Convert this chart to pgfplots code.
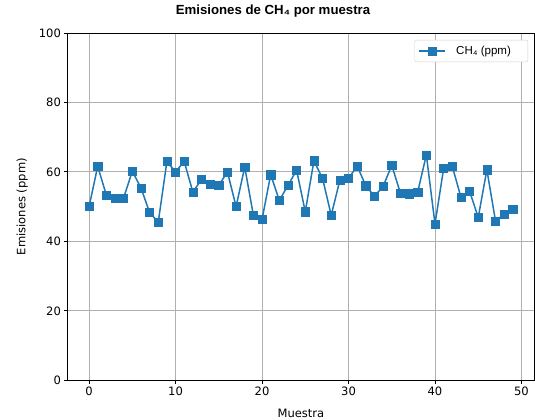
\documentclass[border=0pt]{standalone}
\usepackage{fontspec}
\setmainfont{DejaVu Sans}
\newfontfamily\arialfont{Liberation Sans}
\usepackage{pgfplots}
\pgfplotsset{compat=1.18}
\definecolor{mplblue}{HTML}{1F77B4}
\definecolor{gridgray}{HTML}{B0B0B0}

\begin{document}
\begin{tikzpicture}[x=1bp,y=1bp]
\useasboundingbox (-68,-39) rectangle (468,381);
\begin{axis}[
    at={(0,0)}, anchor=south west,
    scale only axis, width=467bp, height=348bp,
    xmin=-2.45, xmax=51.45, ymin=0, ymax=100,
    xtick={0,10,...,50}, ytick={0,20,...,100},
    tick pos=left, tick align=outside,
    major tick length=3.5bp,
    tick style={black, line width=0.8bp},
    axis line style={line width=0.8bp},
    grid=major, grid style={gridgray, line width=0.8bp},
    tick label style={font=\fontsize{11.6}{13}\selectfont},
    /pgf/number format/assume math mode=true,
    xlabel={Muestra}, ylabel={Emisiones (ppm)},
    every axis x label/.style={at={(axis description cs:0.5,-0.095)}, anchor=center,
        font=\fontsize{11.6}{13}\selectfont},
    every axis y label/.style={at={(axis description cs:-0.098,0.5)}, anchor=center, rotate=90,
        font=\fontsize{11.6}{13}\selectfont},
    title={\arialfont\bfseries Emisiones de CH₄ por muestra},
    title style={at={(axis description cs:0.44,1.046)}, anchor=center, font=\fontsize{13.3}{15}\selectfont},
    legend style={at={(axis description cs:0.9872,0.9799)}, anchor=north east,
        font=\arialfont\fontsize{11.6}{13}\selectfont,
        draw=gridgray!60, rounded corners=2bp, fill=white,
        inner xsep=3bp, inner ysep=4bp},
    legend cell align=left,
    legend image code/.code={\draw[mark repeat=2,mark phase=2] plot coordinates {(0bp,0bp) (13.5bp,0bp) (27bp,0bp)};},
]
\addplot[color=mplblue, line width=1.5bp, mark=square*, mark size=4.1bp,
    mark options={solid, fill=mplblue, draw=mplblue, line width=0.5bp}]
coordinates {
(0,50.0) (1,61.6) (2,53.3) (3,52.5) (4,52.5) (5,60.2) (6,55.4) (7,48.3) (8,45.5) (9,63.0)
(10,60.0) (11,63.0) (12,54.2) (13,57.8) (14,56.4) (15,56.1) (16,60.0) (17,50.0) (18,61.4) (19,47.5)
(20,46.3) (21,59.2) (22,51.8) (23,56.1) (24,60.5) (25,48.5) (26,63.2) (27,58.1) (28,47.5) (29,57.6)
(30,58.1) (31,61.7) (32,56.0) (33,53.0) (34,55.8) (35,61.9) (36,53.9) (37,53.7) (38,54.2) (39,64.9)
(40,45.0) (41,61.0) (42,61.6) (43,52.7) (44,54.4) (45,46.9) (46,60.6) (47,45.8) (48,47.9) (49,49.2)
};
\addlegendentry{\kern8bp CH₄ (ppm)\kern12bp}
\end{axis}
\end{tikzpicture}
\end{document}
